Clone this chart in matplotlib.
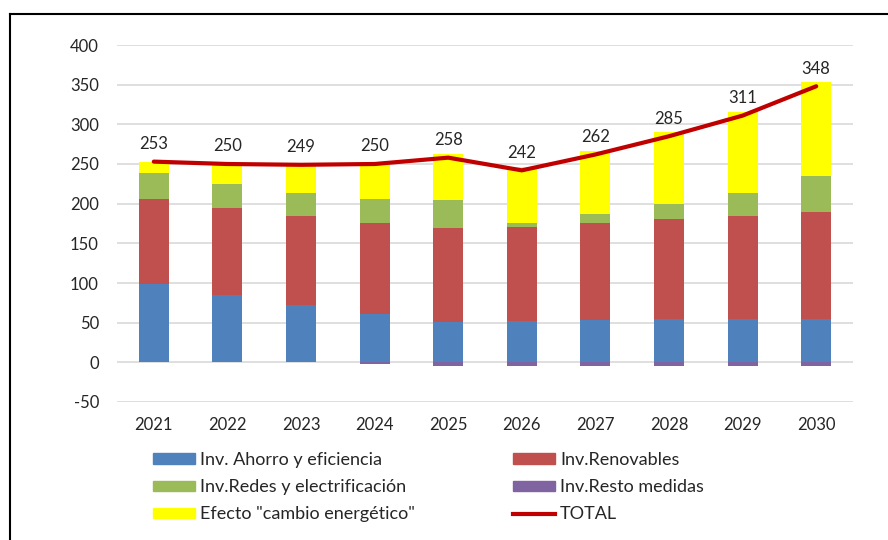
import matplotlib
matplotlib.use("Agg")
import matplotlib.pyplot as plt
import numpy as np
from matplotlib.patches import Patch
from matplotlib.lines import Line2D

years = ["2021", "2022", "2023", "2024", "2025", "2026", "2027", "2028", "2029", "2030"]
ahorro = [99, 85, 72, 61, 51, 52, 53, 54, 54, 55]
renovables = [107, 109, 112, 115, 118, 119, 123, 127, 131, 134]
redes = [33, 31, 30, 30, 36, 5, 11, 18, 28, 46]
resto = [0, 0, 0, -2, -4, -4, -4, -5, -5, -5]
efecto = [14, 25, 35, 46, 57, 70, 79, 91, 103, 118]
total = [253, 250, 249, 250, 258, 242, 262, 285, 311, 348]

plt.rcParams['font.family'] = ['Lato', 'DejaVu Sans']
plt.rcParams['axes.unicode_minus'] = False
txt = '#262626'

fig = plt.figure(figsize=(8.88, 5.4), dpi=100)
ax = fig.add_axes([117/888, 1-402/540, (853-117)/888, (402-45)/540])

x = np.arange(len(years))
w = 0.41
c_blue, c_red, c_green, c_purple, c_yellow, c_line = '#4F81BD', '#C0504D', '#9BBB59', '#8064A2', '#FFFF00', '#C00000'

b0 = np.array(ahorro)
b1 = b0 + np.array(renovables)
b2 = b1 + np.array(redes)
ax.bar(x, ahorro, w, color=c_blue, zorder=2)
ax.bar(x, renovables, w, bottom=b0, color=c_red, zorder=2)
ax.bar(x, redes, w, bottom=b1, color=c_green, zorder=2)
ax.bar(x, efecto, w, bottom=b2, color=c_yellow, zorder=2)
ax.bar(x, resto, w, color=c_purple, zorder=2)
ax.plot(x, total, color=c_line, lw=3, zorder=3, solid_capstyle='round')
for xi, t in zip(x, total):
    ax.annotate(str(t), (xi, t), xytext=(0, 7), textcoords='offset points',
                ha='center', va='bottom', fontsize=12, color=txt)

ax.set_xlim(-0.5, len(years) - 0.5)
ax.set_ylim(-50, 400)
ax.set_yticks(np.arange(-50, 401, 50))
ax.set_xticks(x)
ax.set_xticklabels(years)
ax.grid(axis='y', color='#D9D9D9', lw=1.2, zorder=0)
ax.set_axisbelow(True)
for s in ax.spines.values():
    s.set_visible(False)
ax.tick_params(length=0, labelsize=12, colors=txt)
ax.tick_params(axis='x', pad=11)
ax.tick_params(axis='y', pad=13)

h1 = [Patch(color=c_blue), Patch(color=c_green), Patch(color=c_yellow)]
l1 = ['Inv. Ahorro y eficiencia', 'Inv.Redes y electrificación', 'Efecto "cambio energético"']
h2 = [Patch(color=c_red), Patch(color=c_purple), Line2D([], [], color=c_line, lw=3)]
l2 = ['Inv.Renovables', 'Inv.Resto medidas', 'TOTAL']
kw = dict(frameon=False, fontsize=13, handlelength=2.33, handleheight=0.5,
          handletextpad=0.28, labelspacing=0.62, labelcolor=txt, borderpad=0, borderaxespad=0)
fig.legend(h1, l1, loc='upper left', bbox_to_anchor=(153/888, 1-452/540), **kw)
fig.legend(h2, l2, loc='upper left', bbox_to_anchor=(513/888, 1-452/540), **kw)

fig.add_artist(Line2D([10/888, 1], [1-14/540, 1-14/540], color='black', lw=1.5, transform=fig.transFigure))
fig.add_artist(Line2D([10/888, 10/888], [0, 1-14/540], color='black', lw=1.5, transform=fig.transFigure))

fig.savefig('out.png', dpi=100)
